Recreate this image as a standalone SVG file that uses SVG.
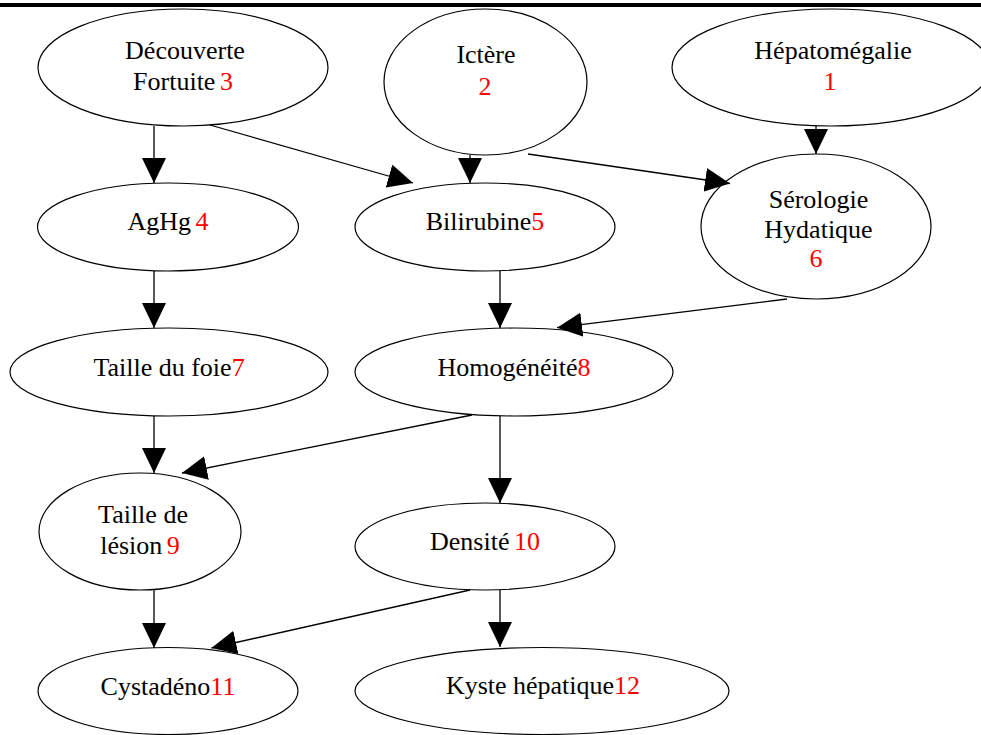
<svg xmlns="http://www.w3.org/2000/svg" width="981" height="735" viewBox="0 0 981 735">
  <style>
    .node ellipse { fill: none; stroke: #000; stroke-width: 1.2; }
    .node text { font-family: "Liberation Serif", "Times New Roman", serif; font-size: 26px; fill: #000; text-anchor: middle; }
    .num { fill: #ff0000; }
    .gap { word-spacing: -2px; }
    #edges path { fill: none; stroke: #000; stroke-width: 1.3; marker-end: url(#arrow); }
  </style>
  <defs>
    <marker id="arrow" markerUnits="userSpaceOnUse" markerWidth="26" markerHeight="24" refX="25" refY="12" orient="auto" viewBox="0 0 26 24">
      <path d="M0,0 L25,12 L0,24 Z" fill="#000"/>
    </marker>
  </defs>
  <rect x="0" y="0" width="981" height="735" fill="#fff"/>
  <!-- top rule -->
  <rect x="0" y="3" width="981" height="4" fill="#000"/>

  <g id="edges">
    <path d="M154,126 L154,183"/>
    <path d="M210,125 L413,183"/>
    <path d="M470,155 L470,183"/>
    <path d="M528,154 L730,183.5"/>
    <path d="M816,126 L816,154"/>
    <path d="M154,271 L154,328"/>
    <path d="M500,271 L500,328"/>
    <path d="M787,299 L557,327.7"/>
    <path d="M154,416 L154,473"/>
    <path d="M472,415 L182,473"/>
    <path d="M500,416 L500,503"/>
    <path d="M154,590 L154,648"/>
    <path d="M470,590 L211.5,648"/>
    <path d="M500,590 L500,647"/>
  </g>

  <g id="n3" class="node">
    <ellipse cx="183" cy="67.5" rx="145" ry="58.5"/>
    <text x="185" y="59">Découverte</text>
    <text x="183" y="90" class="gap">Fortuite <tspan class="num">3</tspan></text>
  </g>
  <g id="n2" class="node">
    <ellipse cx="485.5" cy="82" rx="101.5" ry="73"/>
    <text x="486" y="63">Ictère</text>
    <text x="485" y="95"><tspan class="num">2</tspan></text>
  </g>
  <g id="n1" class="node">
    <ellipse cx="831" cy="67.5" rx="159" ry="58.5"/>
    <text x="833" y="59">Hépatomégalie</text>
    <text x="830" y="90"><tspan class="num">1</tspan></text>
  </g>
  <g id="n4" class="node">
    <ellipse cx="168" cy="227" rx="130.5" ry="44"/>
    <text x="168" y="230" class="gap">AgHg <tspan class="num">4</tspan></text>
  </g>
  <g id="n5" class="node">
    <ellipse cx="485" cy="227" rx="130" ry="44"/>
    <text x="485" y="230">Bilirubine<tspan class="num">5</tspan></text>
  </g>
  <g id="n6" class="node">
    <ellipse cx="816" cy="226.5" rx="115" ry="72.5"/>
    <text x="818.5" y="208">Sérologie</text>
    <text x="818.5" y="238">Hydatique</text>
    <text x="816" y="267"><tspan class="num">6</tspan></text>
  </g>
  <g id="n7" class="node">
    <ellipse cx="169" cy="372" rx="159" ry="44"/>
    <text x="169" y="376">Taille du foie<tspan class="num">7</tspan></text>
  </g>
  <g id="n8" class="node">
    <ellipse cx="514" cy="372" rx="159" ry="44"/>
    <text x="514" y="376">Homogénéité<tspan class="num">8</tspan></text>
  </g>
  <g id="n9" class="node">
    <ellipse cx="140" cy="531.5" rx="101" ry="58.5"/>
    <text x="143" y="523">Taille de</text>
    <text x="140" y="554" class="gap">lésion <tspan class="num">9</tspan></text>
  </g>
  <g id="n10" class="node">
    <ellipse cx="485" cy="546.5" rx="130" ry="43.5"/>
    <text x="485" y="550" class="gap">Densité <tspan class="num">10</tspan></text>
  </g>
  <g id="n11" class="node">
    <ellipse cx="168" cy="691" rx="130" ry="43.5"/>
    <text x="168" y="695">Cystadéno<tspan class="num">11</tspan></text>
  </g>
  <g id="n12" class="node">
    <ellipse cx="542" cy="691" rx="187" ry="43.5"/>
    <text x="543" y="694">Kyste hépatique<tspan class="num">12</tspan></text>
  </g>
</svg>
